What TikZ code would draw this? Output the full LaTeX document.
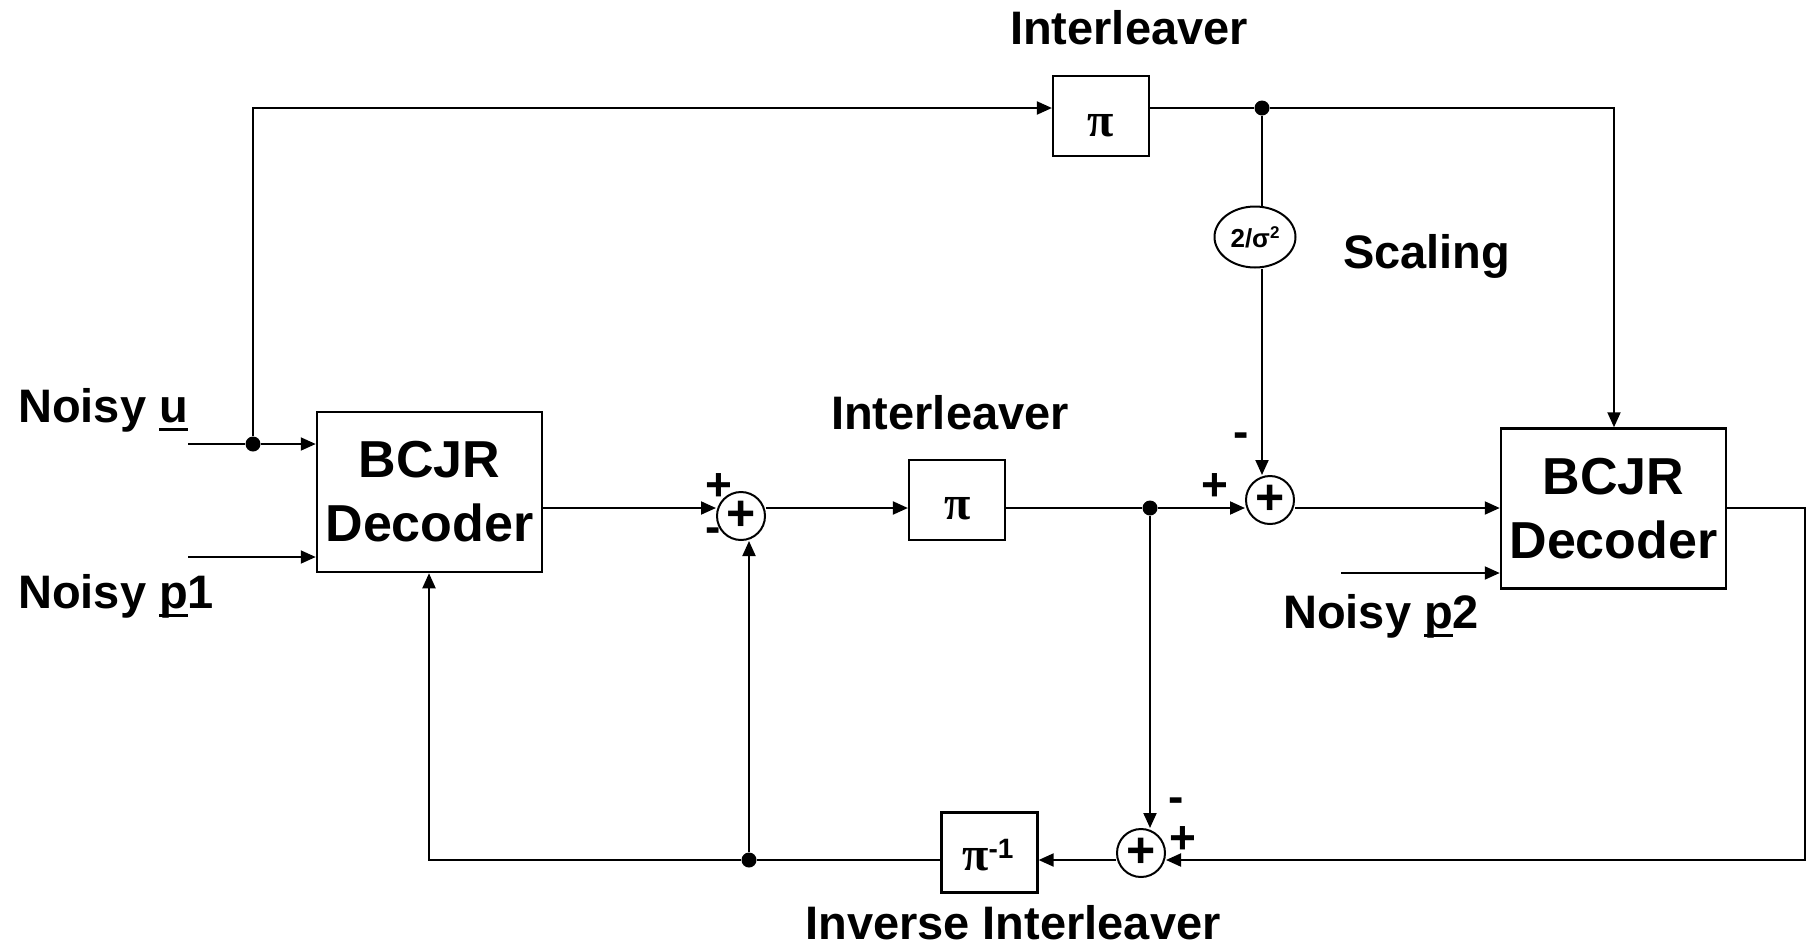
\documentclass[tikz,border=0pt]{standalone}
\usepackage{fontspec}
\setmainfont{Liberation Sans}
\newfontfamily\pifont{Liberation Serif}
\usetikzlibrary{arrows.meta,shapes.geometric}
\newlength\ulw
\newcommand\myul[1]{\settowidth\ulw{#1}\rlap{\rule[-0.19em]{\ulw}{0.07em}}#1}
\tikzset{
  lbl/.style={inner sep=0pt, font=\fontsize{47}{56}\selectfont\bfseries},
  pm/.style={inner sep=0pt, font=\fontsize{46}{50}\selectfont\bfseries},
  bcjr/.style={draw, line width=2.5pt, minimum width=225pt, minimum height=160pt, inner sep=0pt, align=center, font=\fontsize{52}{64}\selectfont\bfseries},
  pibox/.style={draw, line width=2.2pt, minimum width=96pt, minimum height=80pt, inner sep=0pt},
  pitxt/.style={inner sep=0pt, font=\fontsize{48}{48}\selectfont\pifont\bfseries},
  sumnode/.style={circle, draw, line width=2pt, minimum size=48pt, inner sep=0pt, font=\fontsize{50}{50}\selectfont\bfseries},
  dotnode/.style={circle, fill=black, minimum size=15pt, inner sep=0pt},
  conn/.style={line width=2pt},
  arr/.style={line width=2pt, -{Triangle[length=15pt,width=13pt]}},
}
\begin{document}
\begin{tikzpicture}[x=1pt,y=-1pt]
\useasboundingbox (0,0) rectangle (1808,946);

% blocks
\node[bcjr] (box1) at (429.5,492) {BCJR\\Decoder};
\node[bcjr] (box2) at (1613.5,508.5) {BCJR\\Decoder};
\node[pibox] (pitop) at (1101,116) {};
\node[pitxt, anchor=base] (pitopt) at (1101,136) {π};
\node[pibox] (pimid) at (957,500) {};
\node[pitxt, anchor=base] (pimidt) at (957.5,519) {π};
\node[pibox] (pinv) at (989.5,852.5) {};
\node[pitxt, anchor=base west] (pinvt) at (962,870) {π\raisebox{12pt}{\fontsize{28}{28}\selectfont\normalfont\bfseries -1}};
\node[ellipse, draw, line width=2pt, minimum width=81pt, minimum height=61pt, inner sep=0pt, font=\fontsize{26}{26}\selectfont\bfseries] (ell) at (1255,237) {2/σ\raisebox{9pt}{\fontsize{17}{17}\selectfont 2}};

% summers
\node[sumnode] (sum1) at (741,516) {+};
\node[sumnode] (sum2) at (1270,500) {+};
\node[sumnode] (sum3) at (1141,853) {+};

% dots
\node[dotnode] (dot1) at (253,444) {};
\node[dotnode] (dot2) at (1262,108) {};
\node[dotnode] (dot3) at (1150,508) {};
\node[dotnode] (dot4) at (749,860) {};

% free ends and corners
\coordinate (uin) at (188,444);
\coordinate (p1in) at (188,557);
\coordinate (p2in) at (1341,573);
\coordinate (c1) at (253,108);
\coordinate (c2) at (1614,108);
\coordinate (c3) at (1805,508);
\coordinate (c4) at (1805,860);
\coordinate (c5) at (429,860);

% connectors
\draw[conn] (uin) -- (dot1);
\draw[arr] (dot1) -- (dot1 -| box1.west);
\draw[arr] (p1in) -- (p1in -| box1.west);
\draw[arr] (dot1) -- (c1) -- (c1 -| pitop.west);
\draw[conn] (pitop.east |- dot2) -- (dot2);
\draw[arr] (dot2) -- (c2) -- (c2 |- box2.north);
\draw[conn] (dot2) -- (dot2 |- ell.north);
\draw[arr] (dot2 |- ell.south) -- (dot2 |- sum2.north);
\draw[arr] (box1.east |- dot3) -- (sum1.west |- dot3);
\draw[arr] (sum1.east |- dot3) -- (pimid.west |- dot3);
\draw[conn] (pimid.east |- dot3) -- (dot3);
\draw[arr] (dot3) -- (sum2.west |- dot3);
\draw[arr] (sum2.east |- dot3) -- (box2.west |- dot3);
\draw[arr] (p2in) -- (p2in -| box2.west);
\draw[arr] (box2.east |- dot3) -- (c3) -- (c4) -- (sum3.east |- c4);
\draw[arr] (dot3) -- (dot3 |- sum3.north);
\draw[arr] (sum3.west |- c4) -- (pinv.east |- c4);
\draw[conn] (pinv.west |- c4) -- (dot4);
\draw[arr] (dot4) -- (c5) -- (c5 |- box1.south);
\draw[arr] (dot4) -- (dot4 |- sum1.south);

% sign labels
\node[pm] (s1p) at (719,487) {+};
\node[pm] (s1m) at (713,535) {-};
\node[pm] (s2p) at (1215,487) {+};
\node[pm] (s2m) at (1241,440) {-};
\node[pm] (s3m) at (1176,805) {-};
\node[pm] (s3p) at (1183,840) {+};

% text labels
\node[lbl, anchor=base] (tInt) at (1129,44) {Interleaver};
\node[lbl, anchor=base] (mInt) at (950,429) {Interleaver};
\node[lbl, anchor=base] (iInt) at (1013,939) {Inverse Interleaver};
\node[lbl, anchor=base west] (scl) at (1343,268) {Scaling};
\node[lbl, anchor=base west] (nu) at (18,422) {Noisy \myul{u}};
\node[lbl, anchor=base west] (np1) at (18,608) {Noisy \myul{p}1};
\node[lbl, anchor=base west] (np2) at (1283,628) {Noisy \myul{p}2};
\end{tikzpicture}
\end{document}
